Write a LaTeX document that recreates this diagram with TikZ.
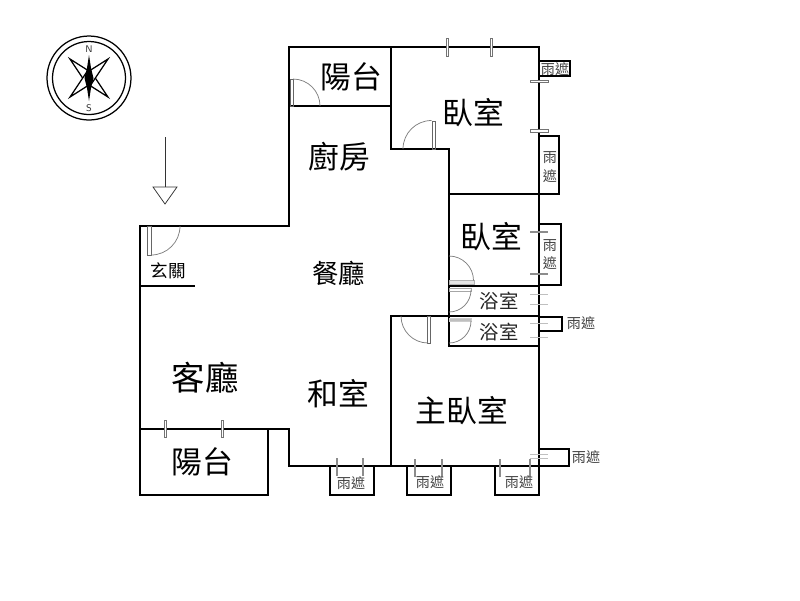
\documentclass[tikz,border=0pt]{standalone}
\usepackage{fontspec}
\newfontfamily\cjk{Noto Sans CJK TC}
\tikzset{
	wall/.style={line width=0.44mm, color=black, line cap=rect},
	glass/.style={line width=0.2mm, color=black!55, fill=white},
	tick/.style={line width=0.25mm, color=black!45},
	faint/.style={line width=0.15mm, color=black!25},
	leaf/.style={line width=0.15mm, color=black!60},
	swing/.style={line width=0.15mm, color=black!50},
	big/.style={font=\cjk\fontsize{17.5}{18}\selectfont, inner sep=0pt},
	mid/.style={font=\cjk\fontsize{15}{16}\selectfont, inner sep=0pt},
	bath/.style={font=\cjk\fontsize{11}{12}\selectfont, inner sep=0pt, color=black!85},
	small/.style={font=\cjk\fontsize{8}{9}\selectfont, inner sep=0pt, color=black!75},
	pole/.style={font=\sffamily\fontsize{5.5}{6}\selectfont, inner sep=0pt, color=black!80}
}

\begin{document}
\begin{tikzpicture}[x=0.02cm, y=-0.02cm]
		%%%%% START %%%%%
		\useasboundingbox (0, 0) rectangle (800, 600);
		
		% compass
		\draw[line width=0.25mm] (89, 78) circle [radius=0.84cm];
		\draw[line width=0.25mm] (89, 78) circle [radius=0.73cm];
		\draw[line width=0.25mm, fill=white] (70, 59) -- (92, 73) -- (108, 97) -- (86, 83) -- cycle;
		\draw[line width=0.25mm, fill=white] (108, 59) -- (86, 73) -- (70, 97) -- (92, 83) -- cycle;
		\fill[black] (89, 55) -- (91, 68) -- (93.5, 78) -- (91, 88) -- (89, 101) -- (87, 88) -- (84.5, 78) -- (87, 68) -- cycle;
		\node[pole] (north) at (89, 49.5) {N};
		\node[pole] (south) at (89, 108) {S};
		
		% entrance arrow
		\draw[line width=0.15mm, color=black!80] (165, 137) -- (165, 187);
		\draw[line width=0.15mm, color=black!80] (153, 187) -- (177, 187) -- (165, 204) -- cycle;
		
		% main walls
		\draw[wall] (140, 226) -- (289, 226) -- (289, 47) -- (539, 47) -- (539, 495);
		\draw[wall] (140, 226) -- (140, 495) -- (268, 495) -- (268, 429);
		\draw[wall] (140, 429) -- (289, 429) -- (289, 466) -- (539, 466);
		\draw[wall] (289, 106) -- (391, 106);
		\draw[wall] (391, 47) -- (391, 149) -- (449, 149) -- (449, 346) -- (539, 346);
		\draw[wall] (449, 194) -- (539, 194);
		\draw[wall] (449, 286) -- (539, 286);
		\draw[wall] (391, 466) -- (391, 316) -- (539, 316);
		\draw[wall] (140, 286) -- (194, 286);
		
		% rain covers
		\draw[wall] (539, 61) -- (570, 61) -- (570, 76) -- (539, 76);
		\draw[wall] (539, 136) -- (559, 136) -- (559, 194) -- (539, 194);
		\draw[wall] (539, 224) -- (561, 224) -- (561, 285) -- (539, 285);
		\draw[wall] (539, 317) -- (562, 317) -- (562, 331) -- (539, 331);
		\draw[wall] (539, 449) -- (569, 449) -- (569, 466) -- (539, 466);
		\draw[wall] (330, 466) -- (330, 495) -- (374, 495) -- (374, 466);
		\draw[wall] (407, 466) -- (407, 495) -- (451, 495) -- (451, 466);
		\draw[wall] (495, 466) -- (495, 495) -- (539, 495);
		
		% windows
		\draw[glass] (446, 38) rectangle (448, 56);
		\draw[glass] (490, 38) rectangle (492, 56);
		\draw[glass] (530, 80) rectangle (548, 82.5);
		\draw[glass] (530, 129.5) rectangle (548, 132);
		\draw[glass] (164, 420) rectangle (166, 437);
		\draw[glass] (221, 420) rectangle (223, 437);
		\draw[tick] (530, 232) -- (548, 232);
		\draw[tick] (530, 274) -- (548, 274);
		\draw[faint] (530, 294) -- (548, 294);
		\draw[faint] (530, 304) -- (548, 304);
		\draw[faint] (530, 323) -- (548, 323);
		\draw[faint] (530, 337) -- (548, 337);
		\draw[faint] (530, 454) -- (548, 454);
		\draw[faint] (530, 458) -- (548, 458);
		\draw[tick] (337, 458) -- (337, 476);
		\draw[tick] (363, 458) -- (363, 476);
		\draw[tick] (415, 459) -- (415, 477);
		\draw[tick] (442, 459) -- (442, 477);
		\draw[tick] (500, 459) -- (500, 477);
		\draw[tick] (530, 459) -- (530, 477);
		
		% doors
		\draw[leaf] (147, 226) rectangle (151, 255);
		\draw[swing] (180, 226) arc [start angle=0, end angle=-90, radius=29*0.02cm];
		\draw[leaf] (290, 79) rectangle (293, 106);
		\draw[swing] (293, 79) arc [start angle=90, end angle=0, radius=27*0.02cm];
		\draw[leaf] (432, 121) rectangle (435, 149);
		\draw[swing] (403, 149) arc [start angle=180, end angle=90, radius=28.5*0.02cm];
		\draw[leaf, draw=black!30, fill=black!10] (449, 280) rectangle (474, 284);
		\draw[swing] (449, 256) arc [start angle=90, end angle=0, radius=24.5*0.02cm];
		\draw[leaf, draw=black!35] (449, 288) rectangle (471, 291);
		\draw[swing] (471, 290) arc [start angle=0, end angle=-90, radius=22*0.02cm];
		\draw[leaf, draw=black!20, fill=black!25] (449, 318) rectangle (471, 321);
		\draw[swing] (471, 321) arc [start angle=0, end angle=-90, radius=22*0.02cm];
		\draw[leaf] (427, 316) rectangle (430, 343);
		\draw[swing] (401, 316) arc [start angle=180, end angle=270, radius=27*0.02cm];
		
		% room names
		\node[big] (balconyn) at (351, 77) {陽台};
		\node[big] (bedn) at (473, 113) {臥室};
		\node[big] (kitchen) at (339, 157) {廚房};
		\node[big] (bedm) at (491, 237) {臥室};
		\node[mid] (dining) at (338.5, 273) {餐廳};
		\node[big, font=\cjk\fontsize{19}{20}\selectfont] (living) at (205, 378) {客廳};
		\node[big] (japanese) at (338, 394) {和室};
		\node[big] (master) at (462, 411) {主臥室};
		\node[big] (balconys) at (202, 462) {陽台};
		\node[bath] (bathn) at (499, 301) {浴室};
		\node[bath] (baths) at (499, 332) {浴室};
		\node[font=\cjk\fontsize{10}{11}\selectfont, inner sep=0pt] (foyer) at (168, 271) {玄關};
		
		% rain cover names
		\node[small] (raina) at (555, 69) {雨遮};
		\node[small] (rainb) at (550, 158) {雨};
		\node[small] (rainc) at (550, 176) {遮};
		\node[small] (raind) at (550, 246) {雨};
		\node[small] (raine) at (550, 263) {遮};
		\node[small] (rainf) at (581, 323) {雨遮};
		\node[small] (raing) at (586, 457) {雨遮};
		\node[small] (rainh) at (351, 483) {雨遮};
		\node[small] (raini) at (430, 482) {雨遮};
		\node[small] (rainj) at (519, 482) {雨遮};
		
		%%%%% END %%%%%
	\end{tikzpicture}
\end{document}
